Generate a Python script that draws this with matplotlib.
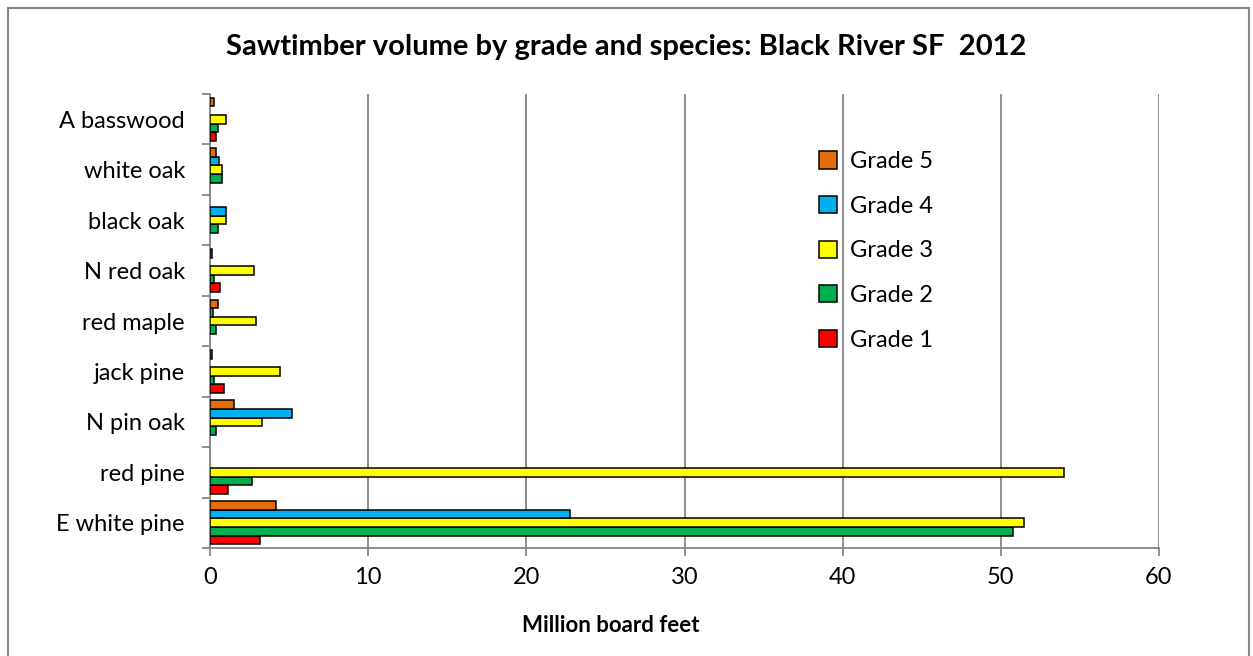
import matplotlib.pyplot as plt
import numpy as np
from matplotlib.patches import Rectangle

species = ["E white pine", "red pine", "N pin oak", "jack pine", "red maple",
           "N red oak", "black oak", "white oak", "A basswood"]
grade_1 = [3.15, 1.15, 0.0, 0.9, 0.0, 0.65, 0.0, 0.0, 0.4]
grade_2 = [50.8, 2.65, 0.35, 0.25, 0.35, 0.25, 0.5, 0.75, 0.5]
grade_3 = [51.45, 54.0, 3.3, 4.45, 2.9, 2.8, 1.0, 0.75, 1.0]
grade_4 = [22.75, 0.0, 5.2, 0.0, 0.2, 0.0, 1.0, 0.6, 0.0]
grade_5 = [4.2, 0.0, 1.5, 0.1, 0.5, 0.1, 0.0, 0.35, 0.25]
x_ticks = [0, 10, 20, 30, 40, 50, 60]

series = [
    ("Grade 1", grade_1, "#FF0000"),
    ("Grade 2", grade_2, "#00B050"),
    ("Grade 3", grade_3, "#FFFF00"),
    ("Grade 4", grade_4, "#00B0F0"),
    ("Grade 5", grade_5, "#E46C0A"),
]

plt.rcParams["font.family"] = ["Lato", "DejaVu Sans"]
grid_gray = "#868686"

fig = plt.figure(figsize=(12.53, 6.56), dpi=100)
ax = fig.add_axes([210 / 1253, 1 - 548 / 656, (1159 - 210) / 1253, (548 - 94) / 656])

y = np.arange(len(species))
h = 0.17
handles = []
for i, (name, vals, color) in enumerate(series):
    vals = np.array(vals)
    keep = vals > 0  # zero values get no bar, as in the original
    ax.barh((y + (i - 2) * h)[keep], vals[keep], height=h, color=color,
            edgecolor="black", linewidth=1.1, zorder=3)
    handles.append(Rectangle((0, 0), 1, 1, facecolor=color, edgecolor="black", linewidth=1.1))

ax.set_xlim(0, 60)
ax.set_ylim(-0.5, len(species) - 0.5)
ax.set_xticks(x_ticks)
ax.set_xticklabels([str(t) for t in x_ticks], fontsize=17)
ax.set_yticks(y)
ax.set_yticklabels(species, fontsize=17)
ax.set_yticks(np.arange(len(species) + 1) - 0.5, minor=True)
ax.tick_params(axis="y", which="major", length=0, pad=18)
ax.tick_params(axis="y", which="minor", length=6, color=grid_gray, width=1.3)
ax.tick_params(axis="x", length=6, color=grid_gray, width=1.3, pad=8)
ax.grid(axis="x", color=grid_gray, linewidth=1.3, zorder=0)
for side in ("top", "right"):
    ax.spines[side].set_visible(False)
for side in ("left", "bottom"):
    ax.spines[side].set_color(grid_gray)
    ax.spines[side].set_linewidth(1.3)

fig.text(611 / 1253, 1 - 625 / 656, "Million board feet", ha="center", va="center",
         fontsize=16, fontweight="bold")
fig.text(0.5, 1 - 47 / 656, "Sawtimber volume by grade and species: Black River SF  2012",
         ha="center", va="center", fontsize=21, fontweight="bold")

ax.legend(handles[::-1], [s[0] for s in series[::-1]], loc="upper left",
          bbox_to_anchor=((798 - 210) / 949, (548 - 130) / 454), frameon=False,
          fontsize=17, handlelength=0.75, handleheight=0.75, labelspacing=1.0,
          handletextpad=0.55)

fig.patches.append(Rectangle((8 / 1253, -0.05), (1249 - 8) / 1253, 1.05 - 8 / 656,
                             transform=fig.transFigure, fill=False,
                             edgecolor=grid_gray, linewidth=1.5))

fig.savefig("out.png", dpi=100)
